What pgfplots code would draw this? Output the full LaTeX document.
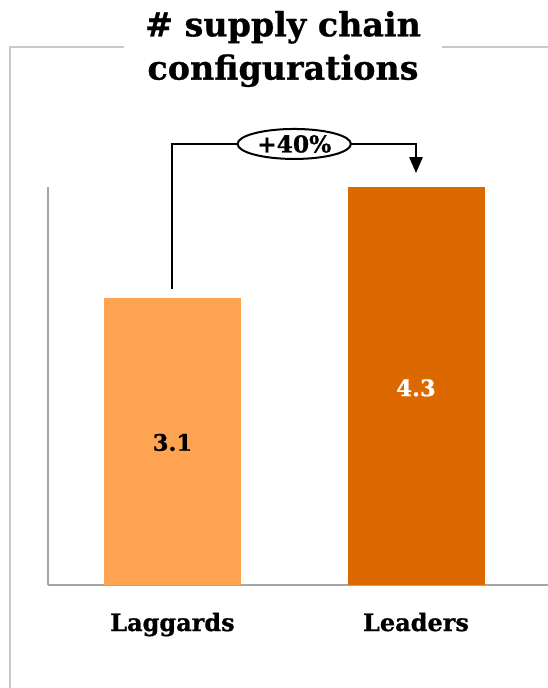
\documentclass[border=0pt]{standalone}
\usepackage{pgfplots}
\pgfplotsset{compat=1.18}
\usepackage{fontspec}
\setmainfont{DejaVu Serif}[BoldFeatures={FakeBold=0.8}]
\usetikzlibrary{arrows.meta,shapes.geometric}
\definecolor{lagcol}{HTML}{FDA352}
\definecolor{leadcol}{HTML}{DC6900}
\definecolor{framegrey}{HTML}{C8C8C8}
\definecolor{axisgrey}{HTML}{A6A6A6}
\begin{document}
\begin{tikzpicture}[x=0.75pt,y=-0.75pt]
\useasboundingbox (0,0) rectangle (548,688);
% panel frame
\draw[framegrey, line width=1.5pt] (124,47) -- (10,47) -- (10,688);
\draw[framegrey, line width=1.5pt] (442,47) -- (548,47);
% title
\node[font=\bfseries\fontsize{25}{32.5}\selectfont, align=center, inner sep=0pt]
  at (283,49) {\# supply chain\\configurations};
\begin{axis}[
  at={(36pt,-438.75pt)}, anchor=south west,
  scale only axis, width=375pt, height=298.5pt,
  xmin=-0.511, xmax=1.542, ymin=0, ymax=4.3,
  axis lines=left,
  axis line style={draw=axisgrey, line width=1pt, -},
  ytick=\empty,
  xtick={0,1}, xticklabels={Laggards,Leaders},
  major tick length=0pt,
  xticklabel style={font=\bfseries\fontsize{18}{21}\selectfont, anchor=base, yshift=-34.5pt},
  clip=false,
]
\addplot[ybar, bar width=102.75pt, fill=lagcol, draw=none] coordinates {(0,3.1)};
\addplot[ybar, bar width=102.75pt, fill=leadcol, draw=none] coordinates {(1,4.3)};
\node[font=\bfseries\fontsize{17}{20}\selectfont, text=black] at (axis cs:0,1.54) {3.1};
\node[font=\bfseries\fontsize{17}{20}\selectfont, text=white] at (axis cs:1,2.13) {4.3};
% growth bracket
\draw[black, line width=1.5pt] (axis cs:0,3.2) -- (axis cs:0,4.765) -- (axis cs:1,4.765) -- (axis cs:1,4.62);
\draw[black, line width=1.5pt, -{Triangle[length=12pt,width=10pt]}] (axis cs:1,4.63) -- (axis cs:1,4.451);
\node[ellipse, draw=black, line width=1.5pt, fill=white, minimum width=85pt, minimum height=22.5pt, inner sep=0pt,
  font=\bfseries\fontsize{17.5}{19}\selectfont] at (axis cs:0.5,4.765) {+40\%};
\end{axis}
\end{tikzpicture}
\end{document}
